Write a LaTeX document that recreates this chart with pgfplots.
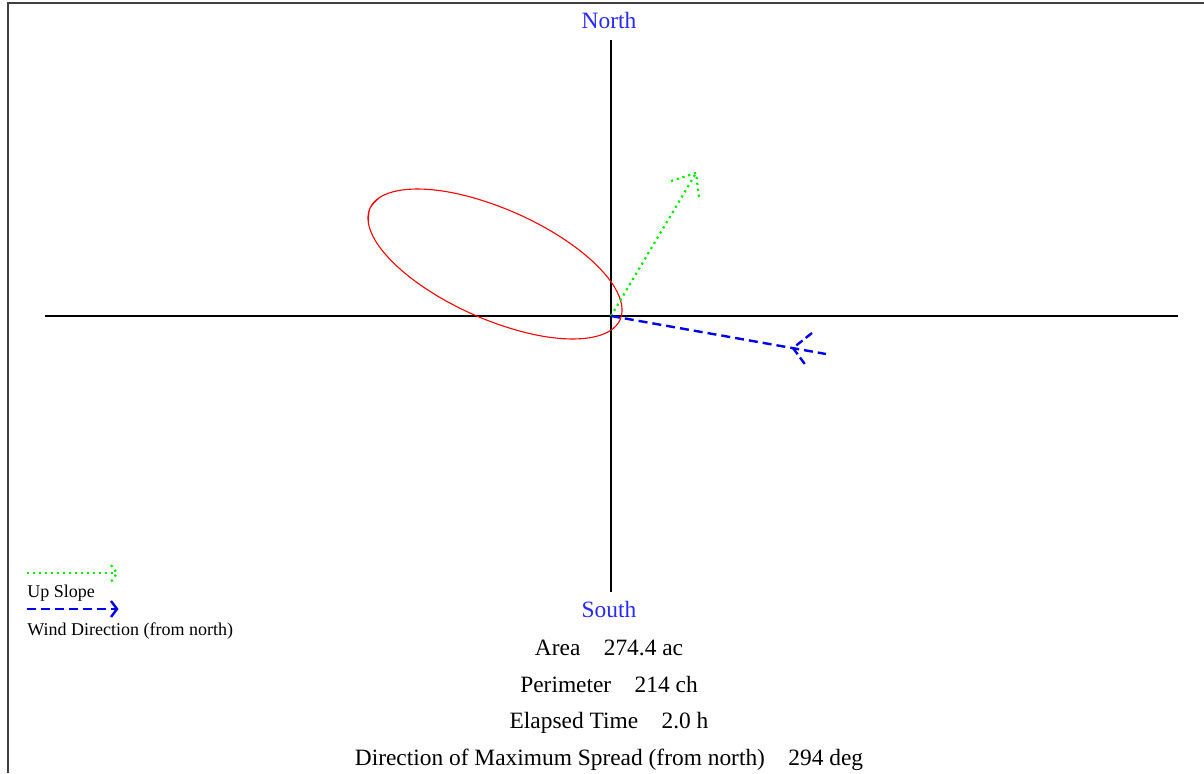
\documentclass[border=0pt]{standalone}
\usepackage{pgfplots}
\pgfplotsset{compat=1.18}
\usepackage{fontspec}
\setmainfont{Liberation Serif}

\definecolor{upgreen}{RGB}{0,235,0}
\definecolor{windblue}{RGB}{0,0,235}
\definecolor{labblue}{RGB}{40,40,255}
\definecolor{frame}{RGB}{64,64,64}

\begin{document}
\begin{tikzpicture}
\begin{axis}[
    x=0.5pt, y=0.5pt,
    xmin=-611, xmax=593,
    ymin=-457, ymax=316,
    hide axis,
    clip=false,
    every axis plot/.append style={mark=none},
]
\coordinate (SW) at (rel axis cs:0,0);
\coordinate (NE) at (rel axis cs:1,1);

% frame
\addplot[frame, line width=1pt] coordinates {(-603,-457) (-603,313) (593,313)};

% compass cross
\addplot[black, line width=0.6pt] coordinates {(-566,0) (567,0)};
\addplot[black, line width=0.6pt] coordinates {(0,-276) (0,276)};

% fire ellipse
\addplot[red, line width=0.55pt, smooth, tension=0.6] coordinates {
    (-242.6,92.8) (-241.1,107.7) (-231.0,118.8) (-213.1,125.3) (-188.7,126.9)
    (-159.2,123.4) (-126.8,114.9) (-93.6,102.2) (-62.0,86.1) (-34.0,67.6)
    (-11.7,48.1) (3.5,28.9) (10.6,11.2) (9.1,-3.7) (-1.0,-14.8)
    (-18.9,-21.3) (-43.3,-22.9) (-72.8,-19.4) (-105.2,-10.9) (-138.4,1.8)
    (-170.0,17.9) (-198.0,36.4) (-220.3,55.9) (-235.5,75.1) (-242.6,92.8)
    (-241.1,107.7) (-231.0,118.8)
};

% up slope arrow
\addplot[upgreen, line width=1.1pt, dash pattern=on 1.1pt off 1.9pt] coordinates {(0,0) (85,143)};
\addplot[upgreen, line width=1.1pt, dash pattern=on 1.1pt off 1.9pt] coordinates {(60,135) (85,143) (88,119)};

% wind arrow
\addplot[windblue, line width=1.2pt, dash pattern=on 4.5pt off 2.5pt] coordinates {(0,0) (215,-38)};
\addplot[windblue, line width=1.2pt, dash pattern=on 4pt off 2pt] coordinates {(201,-17) (182,-32) (196,-51)};

% legend
\addplot[upgreen, line width=1.1pt, dash pattern=on 1.1pt off 1.9pt] coordinates {(-584,-257) (-494,-257)};
\addplot[upgreen, line width=1.1pt, dash pattern=on 1.1pt off 1.9pt] coordinates {(-500,-249) (-494,-257) (-500,-266)};
\addplot[windblue, line width=1.2pt, dash pattern=on 4.5pt off 2.5pt] coordinates {(-584,-293) (-494,-293)};
\addplot[windblue, line width=1.2pt] coordinates {(-500,-285) (-494,-293) (-500,-301)};
\node[anchor=west, inner sep=0pt, font=\fontsize{9}{10}\selectfont] at (axis cs:-584,-277) {Up Slope};
\node[anchor=west, inner sep=0pt, font=\fontsize{9}{10}\selectfont] at (axis cs:-584,-315) {Wind Direction (from north)};

% labels
\node[labblue, font=\fontsize{11.7}{13}\selectfont] at (axis cs:-2,296) {North};
\node[labblue, font=\fontsize{11.7}{13}\selectfont] at (axis cs:-2,-293) {South};
\node[anchor=base, inner sep=0pt, font=\fontsize{11.7}{13}\selectfont] at (axis cs:-2,-339) {Area\quad 274.4 ac};
\node[anchor=base, inner sep=0pt, font=\fontsize{11.7}{13}\selectfont] at (axis cs:-2,-376) {Perimeter\quad 214 ch};
\node[anchor=base, inner sep=0pt, font=\fontsize{11.7}{13}\selectfont] at (axis cs:-2,-412) {Elapsed Time\quad 2.0 h};
\node[anchor=base, inner sep=0pt, font=\fontsize{11.7}{13}\selectfont] at (axis cs:-2,-449) {Direction of Maximum Spread (from north)\quad 294 deg};
\end{axis}
\pgfresetboundingbox
\path (SW) rectangle (NE);
\end{tikzpicture}
\end{document}
